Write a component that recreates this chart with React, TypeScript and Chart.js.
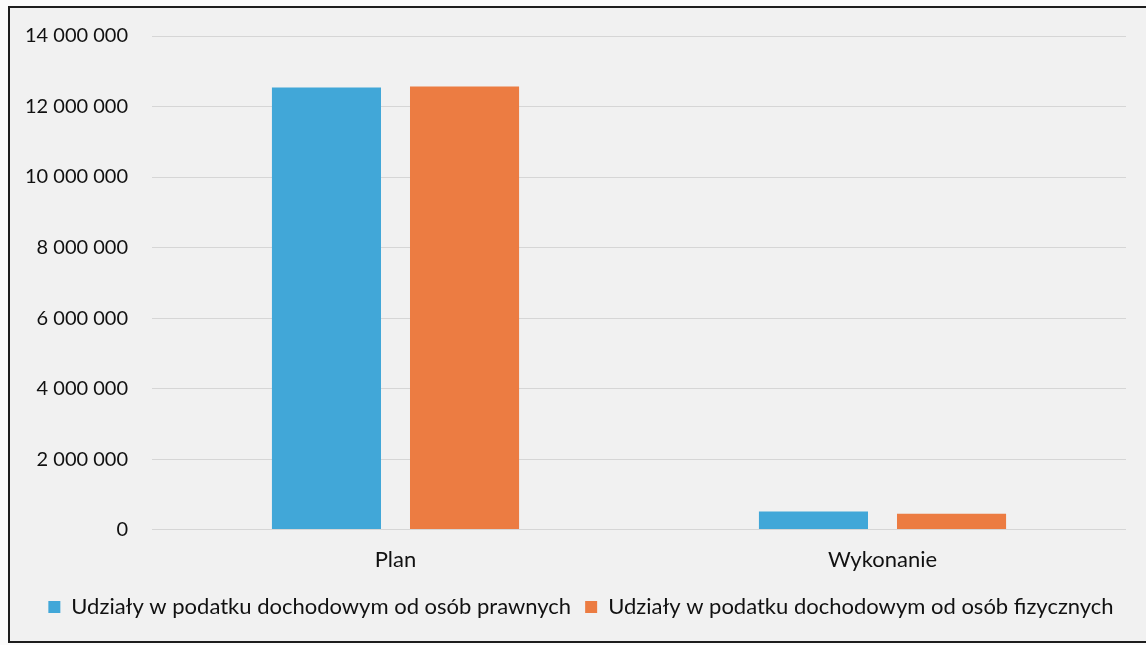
import React, { useEffect, useRef } from "react";
import { Chart, registerables } from "chart.js";

Chart.register(...registerables);

const categories = ["Plan", "Wykonanie"];
const seriesNames = [
  "Udziały w podatku dochodowym od osób prawnych",
  "Udziały w podatku dochodowym od osób fizycznych",
];
const prawnych = [12540000, 510000];
const fizycznych = [12570000, 450000];
const yMax = 14000000;
const yStep = 2000000;

const fmt = (v: number) =>
  Math.round(v)
    .toString()
    .replace(/\B(?=(\d{3})+(?!\d))/g, " ");

const framePlugin = {
  id: "frame",
  afterLayout(chart: any) {
    const lg = chart.legend;
    if (lg) {
      lg.left += 13;
      lg.right += 13;
    }
  },
  beforeDraw(chart: any) {
    const { ctx, width, height } = chart;
    ctx.save();
    ctx.fillStyle = "#fbfbfb";
    ctx.fillRect(0, 0, width, height);
    ctx.fillStyle = "#f1f1f1";
    ctx.fillRect(9, 7, width - 9, height - 10);
    ctx.strokeStyle = "#1e1e1e";
    ctx.lineWidth = 2;
    ctx.beginPath();
    ctx.moveTo(width + 2, 7);
    ctx.lineTo(9, 7);
    ctx.lineTo(9, height - 3);
    ctx.lineTo(width + 2, height - 3);
    ctx.stroke();
    ctx.restore();
  },
};

export default function App() {
  const ref = useRef<HTMLCanvasElement>(null);
  useEffect(() => {
    document.body.style.margin = "0";
    const chart = new Chart(ref.current!, {
      type: "bar",
      data: {
        labels: categories,
        datasets: [
          {
            label: seriesNames[0],
            data: prawnych,
            backgroundColor: "#41a7d8",
            barPercentage: 0.79,
            categoryPercentage: 0.567,
          },
          {
            label: seriesNames[1],
            data: fizycznych,
            backgroundColor: "#ec7c42",
            barPercentage: 0.79,
            categoryPercentage: 0.567,
          },
        ],
      },
      options: {
        animation: false,
        responsive: false,
        maintainAspectRatio: false,
        layout: { padding: { left: 10, right: 20, top: 36, bottom: 17 } },
        plugins: {
          tooltip: { enabled: false },
          legend: {
            position: "bottom",
            labels: {
              boxWidth: 12,
              boxHeight: 12,
              padding: 14,
              color: "#111",
              font: { family: "Lato", size: 22 },
            },
          },
        },
        scales: {
          x: {
            grid: { display: false },
            border: { display: false },
            ticks: {
              color: "#111",
              padding: 9,
              font: { family: "Lato", size: 22 },
            },
          },
          y: {
            min: 0,
            max: yMax,
            afterFit(scale: any) {
              scale.width = 142;
            },
            grid: { color: "#d6d6d6", drawTicks: false, lineWidth: 1 },
            border: { display: false },
            ticks: {
              stepSize: yStep,
              padding: 24,
              color: "#111",
              font: { family: "Lato", size: 20 },
              callback: (v: any) => fmt(Number(v)),
            },
          },
        },
      },
      plugins: [framePlugin],
    });
    return () => chart.destroy();
  }, []);
  return (
    <div style={{ width: 1146, height: 645 }}>
      <canvas ref={ref} width={1146} height={645} style={{ display: "block" }} />
    </div>
  );
}
